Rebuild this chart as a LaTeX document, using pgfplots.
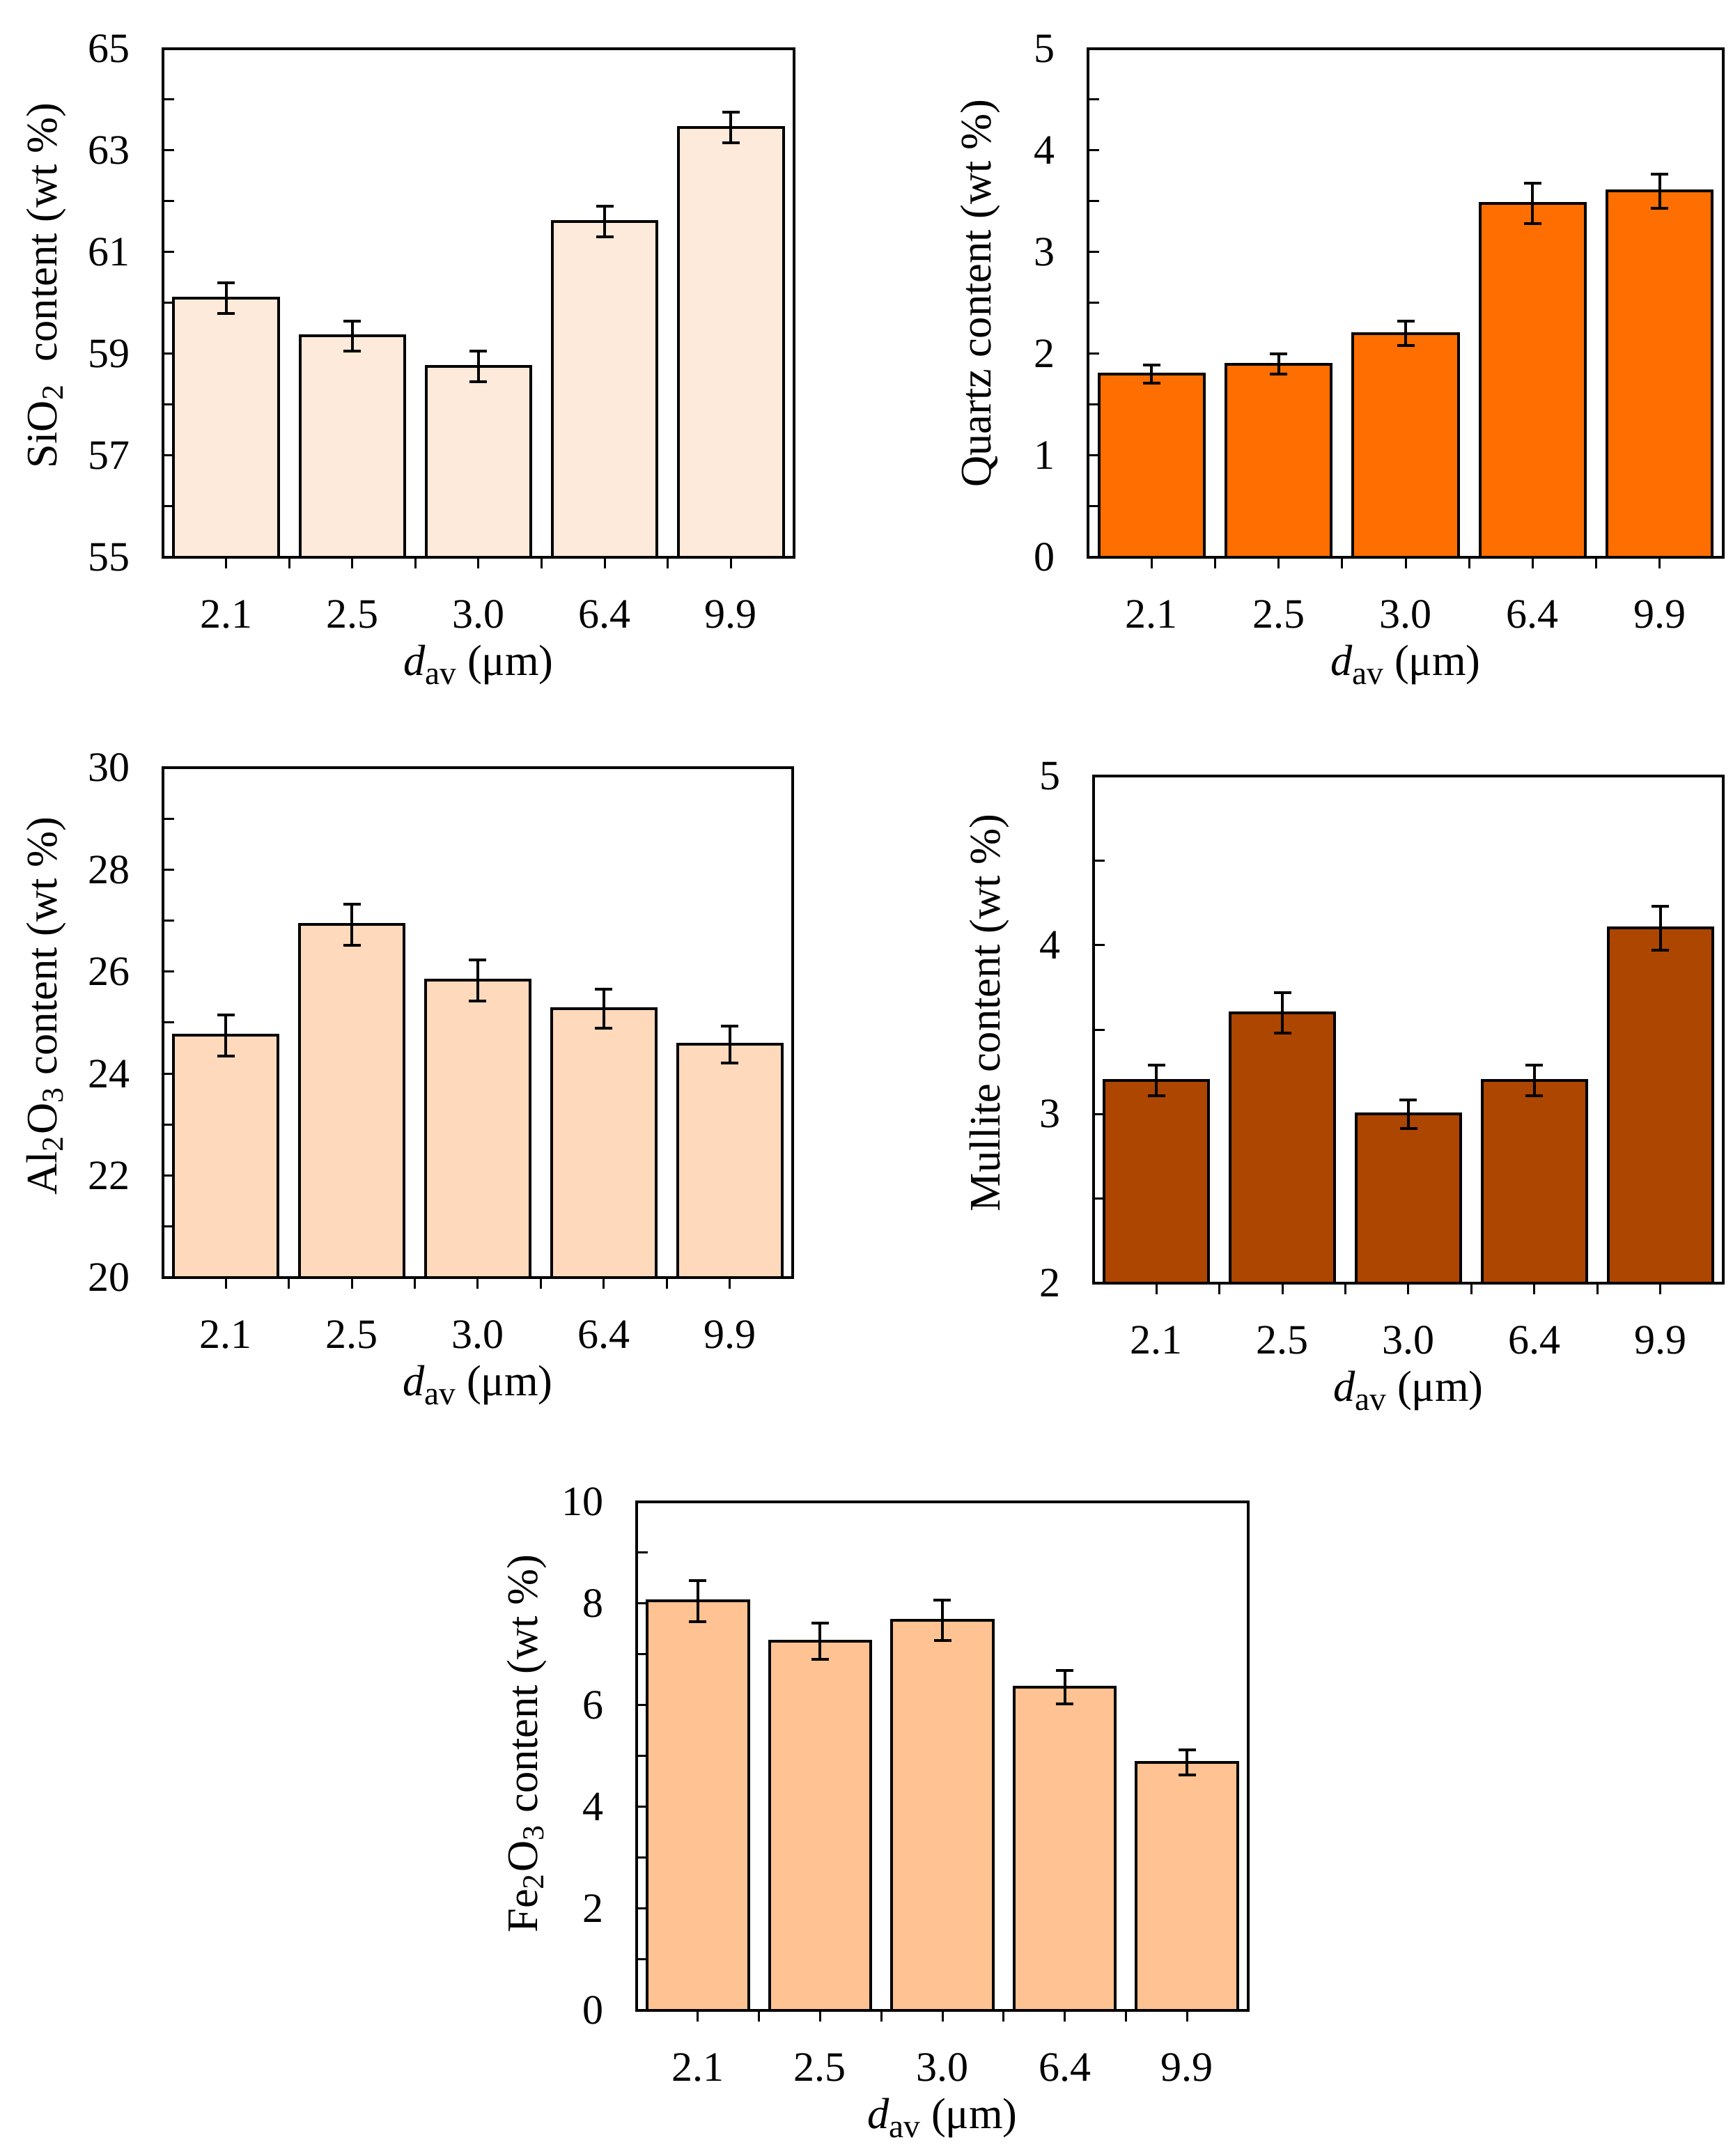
\documentclass[border=0pt]{standalone}
\usepackage{pgfplots}
\pgfplotsset{compat=1.18}
\usepackage{fontspec}
\setmainfont{Liberation Serif}
\definecolor{cA}{HTML}{FDEADA}
\definecolor{cB}{HTML}{FF6E00}
\definecolor{cC}{HTML}{FFD9BC}
\definecolor{cD}{HTML}{AD4600}
\definecolor{cE}{HTML}{FFC292}
\newcommand{\dav}{\textit{d}\raisebox{-0.45ex}{\fontsize{9.5}{11}\selectfont av}}
\pgfplotsset{
  panel/.style={
    scale only axis,
    anchor=south west,
    axis on top,
    font=\fontsize{12}{14}\selectfont,
    /pgf/number format/assume math mode=true,
    axis line style={line width=0.8pt},
    xmin=-0.5, xmax=4.5,
    xtick={0,1,2,3,4},
    xticklabels={2.1,2.5,3.0,6.4,9.9},
    minor xtick={0.5,1.5,2.5,3.5},
    tick pos=left,
    tick align=inside,
    major tick length=3.2pt,
    minor tick length=3.2pt,
    every tick/.style={black, line width=0.6pt},
    minor y tick num=1,
    xticklabel style={yshift=-5.6pt},
    yticklabel style={xshift=-6pt},
    xlabel={\dav{} (μm)},
    every axis x label/.style={at={(axis description cs:0.5,0)}, anchor=center, yshift=-31pt, font=\fontsize{12.5}{14}\selectfont},
    every axis y label/.style={at={(axis description cs:0,0.5)}, anchor=center, rotate=90, font=\fontsize{12.5}{14}\selectfont},
    ybar, bar width=0.83,
  },
  bars/.style={draw=black, line width=0.8pt, fill=#1,
    error bars/.cd, y dir=both, y explicit,
    error bar style={line width=0.8pt, black},
    error mark options={rotate=90, mark size=2.5pt, line width=0.8pt, black}},
}
\begin{document}
\begin{tikzpicture}
\useasboundingbox (0,0) rectangle (497.6pt,619pt);
% SiO2
\begin{axis}[panel, at={(46.8pt,459pt)}, width=181.2pt, height=146pt,
  ymin=55, ymax=65, ytick={55,57,59,61,63,65},
  ylabel={SiO\textsubscript{2}\ \ content (wt \%)},
  ylabel style={yshift=33.6pt, xshift=5pt}]
\addplot[bars=cA] coordinates {
 (0,60.1) +- (0,0.3)
 (1,59.35) +- (0,0.3)
 (2,58.75) +- (0,0.3)
 (3,61.6) +- (0,0.3)
 (4,63.45) +- (0,0.3)
};
\end{axis}
% Quartz
\begin{axis}[panel, at={(312.4pt,459pt)}, width=182.4pt, height=146pt,
  ymin=0, ymax=5, ytick={0,1,2,3,4,5},
  ylabel={Quartz content (wt \%)},
  ylabel style={yshift=31pt, xshift=2.8pt}]
\addplot[bars=cB] coordinates {
 (0,1.8) +- (0,0.09)
 (1,1.9) +- (0,0.1)
 (2,2.2) +- (0,0.12)
 (3,3.48) +- (0,0.2)
 (4,3.6) +- (0,0.17)
};
\end{axis}
% Al2O3
\begin{axis}[panel, at={(46.8pt,252.2pt)}, width=180.8pt, height=146.4pt,
  ymin=20, ymax=30, ytick={20,22,24,26,28,30},
  ylabel={Al\textsubscript{2}O\textsubscript{3} content (wt \%)},
  ylabel style={yshift=33.6pt, xshift=4.8pt}]
\addplot[bars=cC] coordinates {
 (0,24.75) +- (0,0.4)
 (1,26.92) +- (0,0.4)
 (2,25.83) +- (0,0.4)
 (3,25.27) +- (0,0.38)
 (4,24.57) +- (0,0.36)
};
\end{axis}
% Mullite
\begin{axis}[panel, at={(314pt,250.6pt)}, width=180.8pt, height=145.6pt,
  ymin=2, ymax=5, ytick={2,3,4,5},
  ylabel={Mullite content (wt \%)},
  ylabel style={yshift=30pt, xshift=4.8pt}]
\addplot[bars=cD] coordinates {
 (0,3.2) +- (0,0.09)
 (1,3.6) +- (0,0.12)
 (2,3.0) +- (0,0.085)
 (3,3.2) +- (0,0.09)
 (4,4.1) +- (0,0.13)
};
\end{axis}
% Fe2O3
\begin{axis}[panel, at={(182.8pt,41.8pt)}, width=175.6pt, height=146pt,
  ymin=0, ymax=10, ytick={0,2,4,6,8,10},
  ylabel={Fe\textsubscript{2}O\textsubscript{3} content (wt \%)},
  ylabel style={yshift=31.6pt, xshift=3.6pt}]
\addplot[bars=cE] coordinates {
 (0,8.05) +- (0,0.4)
 (1,7.26) +- (0,0.35)
 (2,7.67) +- (0,0.4)
 (3,6.36) +- (0,0.33)
 (4,4.88) +- (0,0.25)
};
\end{axis}
\end{tikzpicture}
\end{document}
